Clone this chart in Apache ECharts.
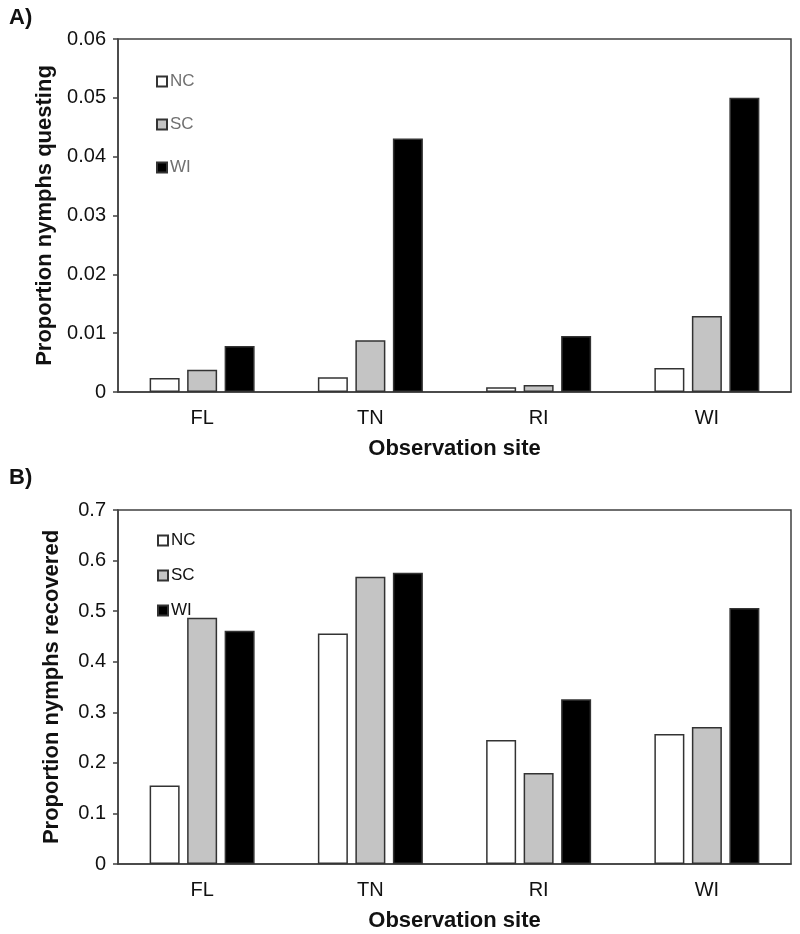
<!DOCTYPE html>
<html>
<head>
<meta charset="utf-8">
<script src="https://cdn.jsdelivr.net/npm/echarts@6/dist/echarts.min.js"></script>
<style>
html,body{margin:0;padding:0;background:#fff;}
#chart{width:800px;height:934px;}
</style>
</head>
<body>
<div id="chart"></div>
<script>
var sites = ['FL', 'TN', 'RI', 'WI'];
var groupNames = ['NC', 'SC', 'WI'];
var questingNC = [0.0024, 0.0025, 0.0008, 0.0041];
var questingSC = [0.0038, 0.0088, 0.0012, 0.0129];
var questingWI = [0.0078, 0.0431, 0.0095, 0.0500];
var recoveredNC = [0.155, 0.456, 0.245, 0.257];
var recoveredSC = [0.487, 0.568, 0.180, 0.271];
var recoveredWI = [0.461, 0.576, 0.326, 0.506];
var yTicksA = [0, 0.01, 0.02, 0.03, 0.04, 0.05, 0.06];
var yTicksB = [0, 0.1, 0.2, 0.3, 0.4, 0.5, 0.6, 0.7];

var fills = ['#ffffff', '#c4c4c4', '#000000'];
var FONT = 'Liberation Sans, Arial, sans-serif';

function makeSeries(name, data, idx, fill) {
  return {
    name: name, type: 'bar', data: data,
    xAxisIndex: idx, yAxisIndex: idx,
    barWidth: 30, barGap: '25%',
    itemStyle: { color: fill, borderColor: '#333', borderWidth: 1.5 },
    emphasis: { disabled: true },
    animation: false
  };
}
function xAxisCfg(idx) {
  return {
    type: 'category', gridIndex: idx, data: sites,
    axisLine: { lineStyle: { color: '#404040', width: 1.5 } },
    axisTick: { show: false },
    axisLabel: { color: '#111', fontSize: 20, fontFamily: FONT, margin: 16 },
    name: 'Observation site', nameLocation: 'middle', nameGap: 46,
    nameTextStyle: { color: '#111', fontSize: 22, fontWeight: 'bold', fontFamily: FONT }
  };
}
function yAxisCfg(idx, ticks, title) {
  return {
    type: 'value', gridIndex: idx,
    min: ticks[0], max: ticks[ticks.length - 1], interval: ticks[1] - ticks[0],
    splitLine: { show: false },
    axisLine: { show: true, lineStyle: { color: '#404040', width: 1.5 } },
    axisTick: { show: true, length: 5, inside: false, lineStyle: { color: '#404040', width: 1.5 } },
    axisLabel: { color: '#111', fontSize: 20, fontFamily: FONT, margin: 12,
      formatter: function (v) { return String(+v.toFixed(4)); } },
    name: title, nameLocation: 'middle', nameGap: 55, nameRotate: 90,
    nameTextStyle: { color: '#111', fontSize: 22, fontWeight: 'bold', fontFamily: FONT }
  };
}

var chart = echarts.init(document.getElementById('chart'), null, { renderer: 'canvas' });
chart.setOption({
  backgroundColor: '#ffffff',
  animation: false,
  grid: [
    { left: 118, right: 9, top: 39, height: 353, show: true, borderColor: '#404040', borderWidth: 1.5, backgroundColor: '#fff' },
    { left: 118, right: 9, top: 510, height: 354, show: true, borderColor: '#404040', borderWidth: 1.5, backgroundColor: '#fff' }
  ],
  title: [
    { text: 'A)', left: 4, top: 2, textStyle: { fontSize: 22, fontWeight: 'bold', color: '#111', fontFamily: FONT } },
    { text: 'B)', left: 4, top: 462, textStyle: { fontSize: 22, fontWeight: 'bold', color: '#111', fontFamily: FONT } }
  ],
  legend: [
    { data: groupNames, orient: 'vertical', left: 151, top: 68, itemWidth: 10, itemHeight: 10, itemGap: 26,
      icon: 'rect', selectedMode: false,
      textStyle: { color: '#707070', fontSize: 17, fontFamily: FONT, padding: [0, 0, 0, -2] } },
    { data: groupNames, orient: 'vertical', left: 152, top: 527, itemWidth: 10, itemHeight: 10, itemGap: 18,
      icon: 'rect', selectedMode: false,
      textStyle: { color: '#111', fontSize: 17, fontFamily: FONT, padding: [0, 0, 0, -2] } }
  ],
  xAxis: [xAxisCfg(0), xAxisCfg(1)],
  yAxis: [
    yAxisCfg(0, yTicksA, 'Proportion nymphs questing'),
    yAxisCfg(1, yTicksB, 'Proportion nymphs recovered')
  ],
  series: [
    makeSeries(groupNames[0], questingNC, 0, fills[0]),
    makeSeries(groupNames[1], questingSC, 0, fills[1]),
    makeSeries(groupNames[2], questingWI, 0, fills[2]),
    makeSeries(groupNames[0], recoveredNC, 1, fills[0]),
    makeSeries(groupNames[1], recoveredSC, 1, fills[1]),
    makeSeries(groupNames[2], recoveredWI, 1, fills[2])
  ]
});
</script>
</body>
</html>
